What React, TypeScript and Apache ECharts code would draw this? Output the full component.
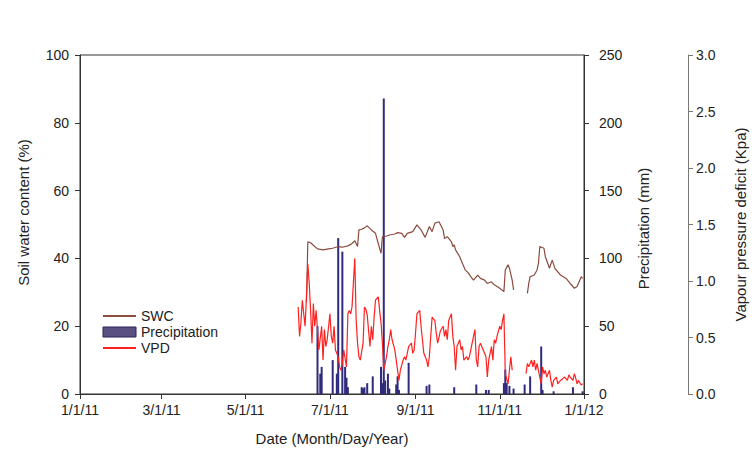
import React, { useEffect, useRef } from "react";
import * as echarts from "echarts";

// Days counted from 1 Jan 2011 (0 = 1/1/11)
const xTickDays = [0, 59, 120, 181, 243, 304, 365];

const swcDay = [164, 165, 167, 170, 172, 176, 180, 183, 187, 190, 194, 197, 199, 201, 202, 204, 206, 208, 211, 214, 216, 218, 219, 222, 224, 228, 230, 233, 235, 237, 241, 244, 247, 250, 253, 255, 257, 260, 263, 264, 266, 269, 270, 271, 272, 275, 277, 279, 281, 283, 285, 288, 290, 293, 295, 298, 300, 304, 307, 308, 310, 311, 313, 314, 319, 324, 325, 326, 329, 331, 332, 333, 336, 337, 340, 342, 344, 348, 352, 355, 358, 360, 363, 364];
const swcValue = [27, 44.9, 44.6, 43.5, 42.8, 42.5, 42.8, 43, 43.5, 43.3, 43.7, 44.4, 45.2, 43.5, 48.4, 48.6, 49, 49.6, 48.4, 47.4, 44.4, 41.5, 46.4, 46.6, 46.9, 47.2, 47.6, 47.4, 46.2, 47.4, 47.9, 49.9, 48.4, 46.2, 49.4, 47.9, 50.4, 50.8, 48.4, 45.9, 46.4, 44.9, 43.5, 44, 42.5, 40.5, 38.5, 36.6, 35.8, 34.6, 33.6, 35.1, 34.1, 33.6, 32.6, 33.1, 32.2, 31.2, 30.2, 36.6, 38.1, 37.1, 33.6, 30.7, null, 29.7, 32.6, 34.6, 35.1, 36.6, 38.5, 43.5, 43, 40.5, 37.1, 39.5, 37, 35.1, 34.1, 32.6, 31.2, 31.7, 34.6, 34.1];

const vpdDay = [158, 159, 160, 161, 163, 164, 165, 166, 167, 168, 169, 170, 171, 172, 173, 175, 176, 177, 178, 179, 181, 182, 183, 184, 185, 187, 188, 189, 190, 191, 193, 194, 195, 196, 197, 199, 200, 201, 202, 203, 205, 206, 207, 208, 210, 211, 212, 213, 214, 216, 217, 218, 219, 220, 222, 223, 224, 225, 226, 228, 229, 230, 231, 232, 234, 235, 236, 237, 238, 240, 241, 242, 243, 244, 246, 247, 248, 249, 251, 252, 253, 254, 255, 257, 258, 259, 260, 261, 263, 264, 265, 266, 267, 269, 270, 271, 272, 273, 275, 276, 277, 278, 280, 281, 282, 283, 284, 286, 287, 288, 289, 290, 292, 293, 294, 295, 296, 298, 299, 300, 301, 302, 304, 305, 306, 307, 308, 310, 311, 312, 313, 318, 323, 324, 325, 327, 328, 329, 330, 331, 333, 334, 335, 336, 337, 338, 340, 341, 342, 343, 345, 346, 348, 351, 353, 354, 355, 357, 358, 359, 360, 361, 363, 364];
const vpdValue = [0.77, 0.51, 0.63, 0.83, 0.6, 0.86, 1.15, 0.98, 0.74, 0.45, 0.8, 0.6, 0.74, 0.57, 0.39, 0.6, 0.3, 0.57, 0.42, 0.48, 0.71, 0.51, 0.45, 0.6, 0.39, 0.33, 0.24, 0.21, 0.27, 0.39, 0.24, 0.71, 0.74, 0.71, 0.77, 1.2, 0.65, 0.45, 0.33, 0.3, 0.45, 0.77, 0.75, 0.7, 0.42, 0.6, 0.48, 0.68, 0.83, 0.86, 0.74, 0.63, 0.45, 0.21, 0.33, 0.42, 0.48, 0.57, 0.48, 0.39, 0.3, 0.21, 0.12, 0.21, 0.3, 0.33, 0.3, 0.36, 0.42, 0.45, 0.36, 0.39, 0.54, 0.71, 0.74, 0.6, 0.48, 0.36, 0.3, 0.24, 0.33, 0.51, 0.68, 0.65, 0.54, 0.45, 0.5, 0.56, 0.6, 0.51, 0.57, 0.48, 0.65, 0.71, 0.51, 0.42, 0.21, 0.42, 0.48, 0.39, 0.42, 0.3, 0.33, 0.3, 0.33, 0.39, 0.45, 0.57, 0.3, 0.24, 0.42, 0.45, 0.39, 0.36, 0.33, 0.15, 0.3, 0.42, 0.3, 0.48, 0.45, 0.51, 0.6, 0.57, 0.65, 0.71, 0.18, 0.09, 0.21, 0.33, 0.21, null, 0.18, 0.27, 0.24, 0.3, 0.24, 0.3, 0.21, 0.27, 0.15, 0.09, 0.24, 0.18, 0.21, 0.15, 0.21, 0.12, 0.06, 0.12, 0.15, 0.09, 0.12, 0.15, 0.12, 0.17, 0.15, 0.12, 0.18, 0.14, 0.09, 0.12, 0.08, 0.09];

const rainDay = [172, 174, 175, 183, 186, 187, 190, 192, 193, 194, 204, 205, 206, 208, 212, 218, 219, 220, 221, 223, 224, 229, 230, 231, 238, 251, 253, 271, 287, 294, 296, 307, 308, 309, 311, 314, 322, 326, 334, 335, 343, 357, 364];
const rainValue = [50, 15, 20, 25, 15, 115, 105, 20, 12, 5, 5, 4, 5, 8, 13, 20, 8, 218, 10, 15, 4, 7, 13, 3, 23, 6, 7, 5, 7, 3, 3, 8, 18, 8, 6, 4, 7, 13, 35, 3, 2, 5, 2];

const START = Date.UTC(2011, 0, 1);
const FONT = "'Liberation Sans', Arial, sans-serif";
const TXT = "#222";
const TICK_FS = 14;
const NAME_FS = 15;

function dayLabel(v: number) {
  const d = new Date(START + Math.round(v) * 86400000);
  return `${d.getUTCMonth() + 1}/${d.getUTCDate()}/${String(d.getUTCFullYear()).slice(2)}`;
}

export default function App() {
  const ref = useRef<HTMLDivElement>(null);
  useEffect(() => {
    if (!ref.current) return;
    const chart = echarts.init(ref.current, null, { renderer: "svg" });
    const swcData = swcDay.map((d, i) => [d, swcValue[i] === null ? "-" : swcValue[i]]);
    const vpdData = vpdDay.map((d, i) => [d, vpdValue[i] === null ? "-" : vpdValue[i]]);
    const rainData = rainDay.map((d, i) => [d, rainValue[i]]);
    const axisLine = { show: true, lineStyle: { color: "#333", width: 1 } };
    chart.setOption({
      animation: false,
      backgroundColor: "#fff",
      textStyle: { fontFamily: FONT },
      grid: { left: 80, right: 171, top: 55, bottom: 59, show: true, borderColor: "#333", borderWidth: 1, backgroundColor: "transparent" },
      legend: {
        orient: "vertical",
        left: 97,
        top: 304,
        itemWidth: 33,
        itemHeight: 10,
        itemGap: 2,
        textStyle: { fontFamily: FONT, fontSize: 14, color: TXT },
        data: [
          { name: "SWC", itemStyle: { opacity: 0 } },
          { name: "Precipitation", icon: "rect", itemStyle: { color: "#5a5082", borderColor: "#2a2550", borderWidth: 1 } },
          { name: "VPD", itemStyle: { opacity: 0 } },
        ],
      },
      xAxis: {
        type: "value",
        min: 0,
        max: 365,
        name: "Date (Month/Day/Year)",
        nameLocation: "middle",
        nameGap: 37,
        nameTextStyle: { fontFamily: FONT, fontSize: NAME_FS, color: TXT },
        axisLine,
        axisTick: { show: true, length: 5, customValues: xTickDays, lineStyle: { color: "#333" } },
        axisLabel: { customValues: xTickDays, formatter: dayLabel, fontFamily: FONT, fontSize: TICK_FS, color: TXT, margin: 9 },
        splitLine: { show: false },
      },
      yAxis: [
        {
          type: "value",
          min: 0,
          max: 100,
          interval: 20,
          position: "left",
          name: "Soil water content (%)",
          nameLocation: "middle",
          nameRotate: 90,
          nameGap: 49,
          nameTextStyle: { fontFamily: FONT, fontSize: NAME_FS, color: TXT, padding: [0, 0, 0, 24] },
          axisLine,
          axisTick: { show: true, length: 5, lineStyle: { color: "#333" } },
          axisLabel: { fontFamily: FONT, fontSize: TICK_FS, color: TXT, margin: 11 },
          splitLine: { show: false },
        },
        {
          type: "value",
          min: 0,
          max: 250,
          interval: 50,
          position: "right",
          name: "Precipitation (mm)",
          nameLocation: "middle",
          nameRotate: 90,
          nameGap: 52,
          nameTextStyle: { fontFamily: FONT, fontSize: NAME_FS, color: TXT, padding: [0, 8, 0, 0] },
          axisLine,
          axisTick: { show: true, length: 5, lineStyle: { color: "#333" } },
          axisLabel: { fontFamily: FONT, fontSize: TICK_FS, color: TXT, margin: 15 },
          splitLine: { show: false },
        },
        {
          type: "value",
          min: 0,
          max: 3,
          interval: 0.5,
          position: "right",
          offset: 104,
          name: "Vapour pressure deficit (Kpa)",
          nameLocation: "middle",
          nameRotate: 90,
          nameGap: 45,
          nameTextStyle: { fontFamily: FONT, fontSize: NAME_FS, color: TXT },
          axisLine: { show: true, lineStyle: { color: "#777", width: 1 } },
          axisTick: { show: true, length: 5, lineStyle: { color: "#777" } },
          axisLabel: { fontFamily: FONT, fontSize: TICK_FS, color: TXT, margin: 8, formatter: (v: number) => v.toFixed(1) },
          splitLine: { show: false },
        },
      ],
      series: [
        {
          name: "SWC",
          type: "line",
          yAxisIndex: 0,
          data: swcData,
          symbol: "none",
          connectNulls: false,
          lineStyle: { color: "#8b4c3e", width: 1.2 },
          itemStyle: { color: "#8b4c3e" },
        },
        {
          name: "Precipitation",
          type: "bar",
          yAxisIndex: 1,
          data: rainData,
          barWidth: 2,
          itemStyle: { color: "#2f2b7c" },
        },
        {
          name: "VPD",
          type: "line",
          yAxisIndex: 2,
          data: vpdData,
          symbol: "none",
          connectNulls: false,
          lineStyle: { color: "#ff2020", width: 1.2 },
          itemStyle: { color: "#ff2020" },
        },
      ],
    });
    return () => chart.dispose();
  }, []);
  return <div ref={ref} style={{ position: "fixed", left: 0, top: 0, width: 756, height: 453, background: "#fff" }} />;
}
